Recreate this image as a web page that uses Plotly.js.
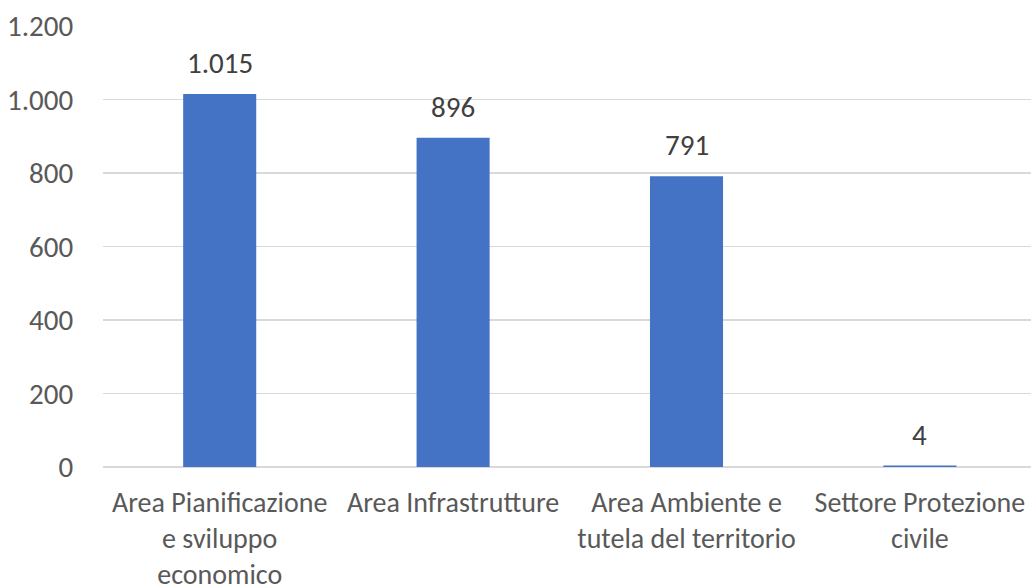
<!DOCTYPE html>
<html>
<head>
<meta charset="utf-8">
<script src="https://cdn.plot.ly/plotly-3.0.1.min.js"></script>
<style>html,body{margin:0;padding:0;background:#fff;overflow:hidden}#chart{width:1031px;height:588px}</style>
</head>
<body>
<div id="chart"></div>
<script>
const categories = ["Area Pianificazione<br>e sviluppo<br>economico", "Area Infrastrutture", "Area Ambiente e<br>tutela del territorio", "Settore Protezione<br>civile"];
const values = [1015, 896, 791, 4];
const yTicks = [0, 200, 400, 600, 800, 1000, 1200];

function fmt(v) { return String(v).replace(/\B(?=(\d{3})+(?!\d))/g, "."); }

const FONT = "Carlito, Calibri, Lato, sans-serif";
const FS = 29;

const trace = {
  type: "bar",
  x: categories,
  y: values,
  marker: { color: "#4472C4" },
  hoverinfo: "none"
};

const annotations = categories.map((c, i) => ({
  x: c, y: values[i], xref: "x", yref: "y",
  text: fmt(values[i]), showarrow: false,
  yanchor: "bottom", yshift: 11,
  font: { family: FONT, size: FS, color: "#404040" }
}));

const layout = {
  width: 1031, height: 588,
  margin: { l: 103, r: 0, t: 25.5, b: 120.5 },
  paper_bgcolor: "#ffffff", plot_bgcolor: "#ffffff",
  separators: ",.",
  bargap: 0.687,
  showlegend: false,
  font: { family: FONT, color: "#595959", size: FS },
  xaxis: {
    type: "category",
    range: [-0.5, 3.476],
    showgrid: false, zeroline: false, showline: false,
    ticks: "outside", ticklen: 10, tickcolor: "rgba(0,0,0,0)",
    tickfont: { family: FONT, size: 28, color: "#595959" },
    fixedrange: true
  },
  yaxis: {
    range: [0, 1200],
    tickvals: yTicks,
    ticktext: yTicks.map(fmt),
    showgrid: true, gridcolor: "#D9D9D9", gridwidth: 1.3,
    zeroline: true, zerolinecolor: "#D9D9D9", zerolinewidth: 1.3,
    showline: false,
    ticks: "outside", ticklen: 23, tickcolor: "rgba(0,0,0,0)",
    tickfont: { family: FONT, size: FS, color: "#595959" },
    fixedrange: true
  },
  annotations: annotations
};

Plotly.newPlot("chart", [trace], layout, { displayModeBar: false, staticPlot: true });
</script>
</body>
</html>
